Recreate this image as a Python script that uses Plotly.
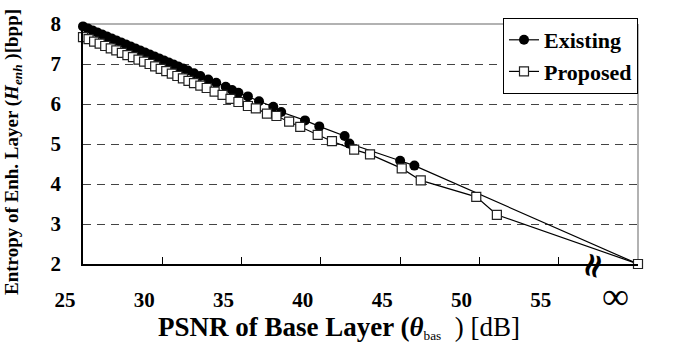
import plotly.graph_objects as go

# PSNR of base layer [dB] (60 = infinity position)
existing_x = [25.0, 25.3, 25.6, 25.9, 26.2, 26.5, 26.8, 27.1, 27.4, 27.7, 28.0, 28.3, 28.6, 28.9,
              29.2, 29.5, 29.8, 30.1, 30.4, 30.7, 31.0, 31.3, 31.6, 32.0, 32.4, 32.9, 33.4, 34.0,
              34.4, 34.8, 35.4, 36.1, 37.0, 37.5, 39.0, 39.9, 41.5, 41.8, 45.0, 45.9, 60.0]
existing_y = [7.94, 7.89, 7.84, 7.79, 7.74, 7.69, 7.64, 7.59, 7.54, 7.49, 7.44, 7.39, 7.34, 7.29,
              7.24, 7.19, 7.14, 7.09, 7.04, 6.99, 6.94, 6.89, 6.84, 6.77, 6.70, 6.61, 6.53, 6.43,
              6.35, 6.28, 6.19, 6.07, 5.93, 5.80, 5.59, 5.44, 5.20, 5.01, 4.58, 4.46, 2.00]

proposed_x = [25.0, 25.35, 25.7, 26.05, 26.4, 26.75, 27.1, 27.45, 27.8, 28.15, 28.5, 28.85, 29.2,
              29.55, 29.9, 30.25, 30.6, 30.95, 31.3, 31.65, 32.0, 32.4, 32.8, 33.3, 33.8, 34.3,
              34.8, 35.4, 35.9, 36.6, 37.2, 38.0, 38.7, 39.8, 40.7, 42.1, 43.1, 45.1, 46.3, 49.8,
              51.1, 60.0]
proposed_y = [7.67, 7.62, 7.56, 7.51, 7.45, 7.39, 7.34, 7.28, 7.22, 7.17, 7.11, 7.06, 7.00,
              6.94, 6.88, 6.82, 6.76, 6.70, 6.64, 6.58, 6.52, 6.46, 6.40, 6.31, 6.23, 6.13,
              6.05, 5.95, 5.89, 5.76, 5.70, 5.56, 5.43, 5.23, 5.07, 4.86, 4.74, 4.39, 4.09, 3.68,
              3.23, 2.00]

x_tickvals = [25, 30, 35, 40, 45, 50, 55, 60]
x_ticktext = ["25", "30", "35", "40", "45", "50", "55", ""]
y_tickvals = [2, 3, 4, 5, 6, 7, 8]
y_ticktext = ["2", "3", "4", "5", "6", "7", "8"]

SERIF = "Liberation Serif"

fig = go.Figure()
fig.add_trace(go.Scatter(
    x=existing_x, y=existing_y, mode="lines+markers", name="Existing",
    line=dict(color="black", width=1.2),
    marker=dict(symbol="circle", size=10, color="black", line=dict(color="black", width=0)),
    cliponaxis=False,
))
fig.add_trace(go.Scatter(
    x=proposed_x, y=proposed_y, mode="lines+markers", name="Proposed",
    line=dict(color="black", width=1.2),
    marker=dict(symbol="square", size=9, color="white", line=dict(color="#222", width=1.2)),
    cliponaxis=False,
))

# plot-area border (top and right, grey)
fig.add_shape(type="line", xref="paper", yref="paper", x0=0, x1=1, y0=1, y1=1,
              line=dict(color="#999", width=1.5), layer="between")
fig.add_shape(type="line", xref="paper", yref="paper", x0=1, x1=1, y0=0, y1=1,
              line=dict(color="#999", width=1.5), layer="between")

fig.update_layout(
    width=681, height=350,
    margin=dict(l=83, r=43, t=19, b=86),
    paper_bgcolor="white", plot_bgcolor="white",
    showlegend=True,
    legend=dict(x=1, xanchor="right", y=1.025, yanchor="top",
                bgcolor="white", bordercolor="black", borderwidth=1,
                font=dict(family=SERIF, size=22, color="black", weight="bold"),
                itemwidth=30, tracegroupgap=0),
    xaxis=dict(range=[25, 60], tickvals=x_tickvals,
               ticktext=["<b>%s</b>" % t if t else "" for t in x_ticktext],
               showgrid=False, zeroline=False,
               showline=True, linecolor="black", linewidth=1.5,
               ticks="inside", ticklen=7, tickcolor="black", tickwidth=1.2,
               ticklabelshift=-18, ticklabelstandoff=16,
               tickfont=dict(family=SERIF, size=21, color="black", weight="bold")),
    yaxis=dict(range=[2, 8], tickvals=y_tickvals,
               ticktext=["<b>%s</b>" % t for t in y_ticktext],
               showgrid=True, gridcolor="#444", griddash="8px,6px", gridwidth=1,
               zeroline=False, showline=True, linecolor="black", linewidth=1.5,
               ticks="", ticklabelstandoff=16,
               tickfont=dict(family=SERIF, size=21, color="black", weight="bold")),
)

# axis titles
fig.add_annotation(
    xref="paper", yref="paper", x=(339 - 83.3) / 554.4, y=(264.5 - 329) / 245,
    xanchor="center", yanchor="middle",
    text="<b>PSNR of Base Layer (</b><b><i>θ</i></b><span style='font-size:19px'><sub>bas</sub></span>&nbsp;&nbsp;) [dB]",
    showarrow=False, font=dict(family=SERIF, size=27, color="black"))
fig.add_annotation(
    xref="paper", yref="paper", x=(14 - 83.3) / 554.4, y=0.465, xanchor="center", yanchor="middle",
    textangle=-90,
    text="<b>Entropy of Enh. Layer (<i>H</i><sub><i>enh</i></sub> )[bpp]</b>",
    showarrow=False, font=dict(family=SERIF, size=19, color="black"))

# infinity label and axis break mark
fig.add_annotation(
    xref="paper", yref="paper", x=(615 - 83.3) / 554.4, y=(264.5 - 297) / 245,
    xanchor="center", yanchor="middle", text="∞", showarrow=False,
    font=dict(family=SERIF, size=38, color="black"))
fig.add_annotation(
    xref="paper", yref="paper", x=(592 - 83.3) / 554.4, y=(264.5 - 266) / 245,
    xanchor="center", yanchor="middle", text="<b>≈</b>", textangle=-75, showarrow=False,
    font=dict(family="DejaVu Serif", size=34, color="black"))

fig.write_html("out.html")
